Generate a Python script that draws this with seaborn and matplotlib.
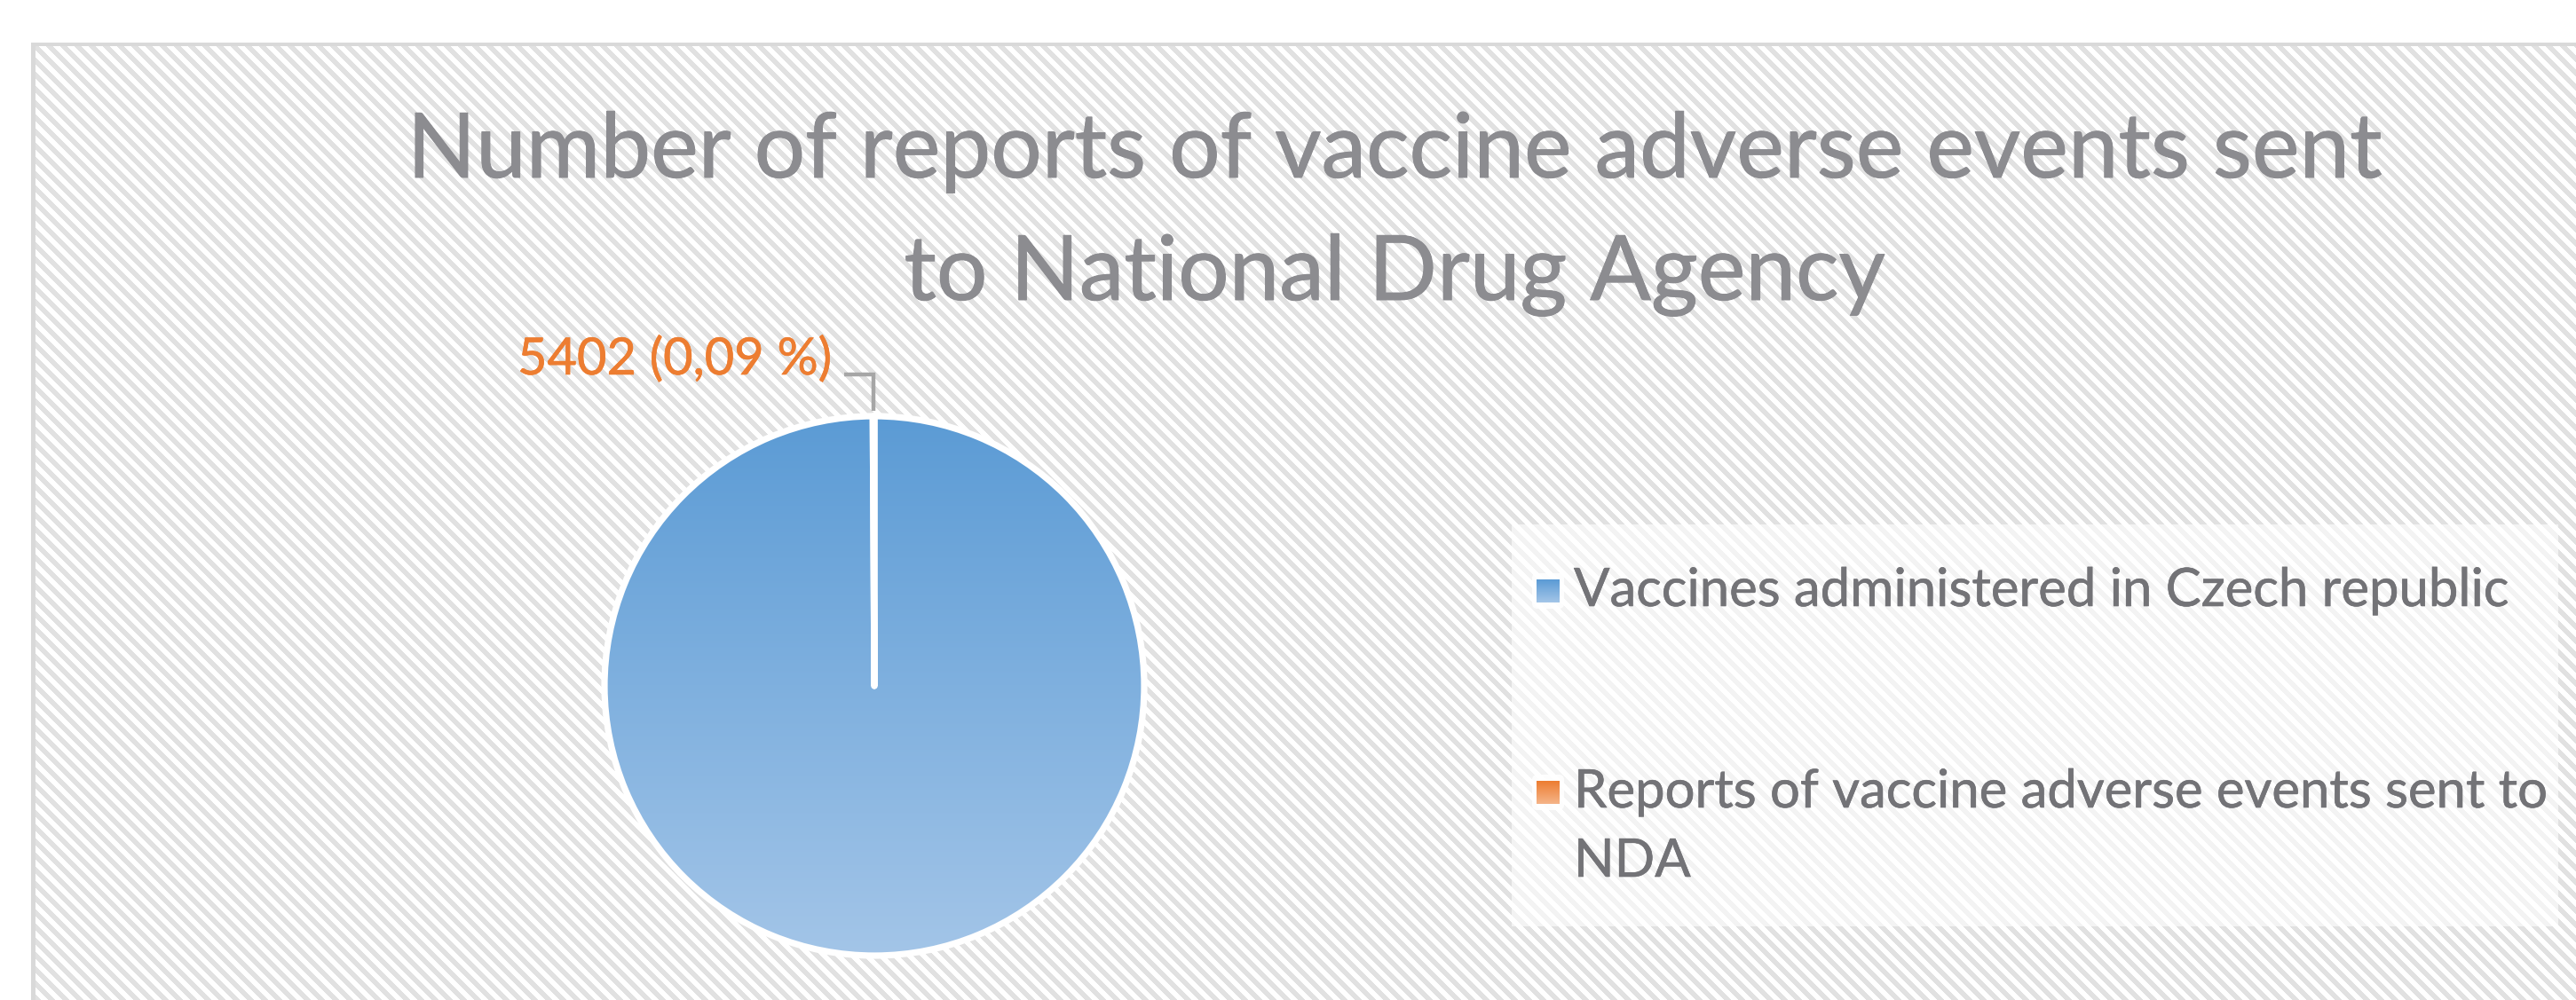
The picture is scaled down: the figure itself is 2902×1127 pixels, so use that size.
import textwrap
import numpy as np
import matplotlib
matplotlib.use("Agg")
import matplotlib.pyplot as plt
import matplotlib.patheffects as pe
from matplotlib.patches import Rectangle, FancyBboxPatch
from matplotlib.colors import to_rgb
import seaborn as sns

# ---------------- data ----------------
categories = ["Vaccines administered in Czech republic",
              "Reports of vaccine adverse events sent to NDA"]
values = [5996820, 5402]
title_lines = ["Number of reports of vaccine adverse events sent",
               "to National Drug Agency"]
colors_top = ["#5B9BD5", "#ED7D31"]
colors_bottom = ["#A3C5E8", "#F5B488"]

# ---------------- style ----------------
sns.set_theme(style="white")
plt.rcParams["font.family"] = ["Lato", "DejaVu Sans"]
palette = sns.color_palette(colors_top)

W, H = 2902, 1127
fig = plt.figure(figsize=(W / 100, H / 100), dpi=100)

# background axes in pixel coordinates
bg = fig.add_axes([0, 0, 1, 1], zorder=-5)
bg.set_xlim(0, W)
bg.set_ylim(H, 0)
bg.axis("off")

yy, xx = np.mgrid[0:H, 0:W]
stripe = ((xx - yy) % 16) < 8
img = np.ones((H, W, 3))
grey = np.array(to_rgb("#E1E1E1"))
img[stripe] = grey
img[:48, :] = 1.0
img[:, :35] = 1.0
bg.imshow(img, extent=(0, W, H, 0), interpolation="nearest", aspect="auto", zorder=0)
# chart border
bg.add_patch(Rectangle((35, 48), W, 4, facecolor="#D9D9D9", edgecolor="none", zorder=1))
bg.add_patch(Rectangle((35, 48), 5, H, facecolor="#D9D9D9", edgecolor="none", zorder=1))
# legend box
bg.add_patch(Rectangle((1703, 591), 2882 - 1703, 1044 - 591, facecolor="white",
                       alpha=0.62, edgecolor="none", zorder=2))

# ---------------- pie ----------------
R = 304.0
cx, cy = 985.0, 773.0
lim = 1.25
side = 2 * lim * R
ax = fig.add_axes([(cx - side / 2) / W, (H - cy - side / 2) / H, side / W, side / H])
wedges, _ = ax.pie(values, startangle=90, counterclock=False, colors=palette,
                   wedgeprops=dict(edgecolor="white", linewidth=5.2, joinstyle="round"))
ax.set_xlim(-lim, lim)
ax.set_ylim(-lim, lim)
ax.set_aspect("equal")
ax.axis("off")
ax.patch.set_alpha(0)

for w, ct, cb in zip(wedges, colors_top, colors_bottom):
    grad = np.linspace(0, 1, 256)[:, None, None]
    rgb = (1 - grad) * np.array(to_rgb(ct)) + grad * np.array(to_rgb(cb))
    rgb = np.repeat(rgb, 2, axis=1)
    im = ax.imshow(rgb, extent=(-1, 1, -1, 1), origin="upper", aspect="auto",
                   interpolation="bilinear", zorder=0.5)
    im.set_clip_path(w)
    w.set_facecolor("none")
    w.set_zorder(2)
ax.set_xlim(-lim, lim)
ax.set_ylim(-lim, lim)

# data label with leader line for the small slice
total = sum(values)
pct = values[1] / total * 100
label_txt = f"{values[1]} ({pct:.2f} %)".replace(".", ",")
w1 = wedges[1]
mid = np.deg2rad((w1.theta1 + w1.theta2) / 2)
x0 = np.cos(mid)
y_top = 1.155
ax.plot([x0, x0, x0 - 0.108], [1.02, y_top, y_top], color="#A6A6A6", lw=3.2,
        solid_joinstyle="miter", solid_capstyle="butt", zorder=3)

renderer = fig.canvas.get_renderer()


def fit(t, target):
    wdt = t.get_window_extent(renderer).width
    t.set_fontsize(t.get_fontsize() * target / wdt)


def bolden(t, lw):
    t.set_path_effects([pe.withStroke(linewidth=lw, foreground=t.get_color())])


lab = bg.text(583, 422, label_txt, color="#ED7D31", fontsize=46, va="baseline", ha="left")
fit(lab, 354)
bolden(lab, 0.45)

# ---------------- title ----------------
t1 = bg.text(1571, 200, title_lines[0], color="#8C8C90", fontsize=80,
             ha="center", va="baseline")
fit(t1, 2225)
t2 = bg.text(1571, 338, title_lines[1], color="#8C8C90", fontsize=t1.get_fontsize(),
             ha="center", va="baseline")
bolden(t1, 0.7)
bolden(t2, 0.7)

# ---------------- legend ----------------
leg_baselines = [683, 910]
line_gap = 78
leg_fs = None
for i, (cat, ct, cb) in enumerate(zip(categories, colors_top, colors_bottom)):
    base = leg_baselines[i]
    mcy = base - 17
    bg.add_patch(FancyBboxPatch((1726, mcy - 20), 36, 40,
                                boxstyle="round,pad=0,rounding_size=6",
                                facecolor="white", edgecolor="none", alpha=0.9, zorder=3))
    grad = np.linspace(0, 1, 32)[:, None, None]
    rgb = (1 - grad) * np.array(to_rgb(ct)) + grad * np.array(to_rgb(cb))
    rgb = np.repeat(rgb, 2, axis=1)
    bg.imshow(rgb, extent=(1731, 1757, mcy + 13, mcy - 13), aspect="auto",
              interpolation="bilinear", zorder=4)
    lines = textwrap.wrap(cat, 41)
    for j, ln in enumerate(lines):
        t = bg.text(1773, base + j * line_gap, ln, color="#737377",
                    fontsize=leg_fs if leg_fs else 45, ha="left", va="baseline", zorder=5)
        if leg_fs is None:
            fit(t, 1054)
            leg_fs = t.get_fontsize()
        bolden(t, 0.45)

bg.set_xlim(0, W)
bg.set_ylim(H, 0)
fig.savefig("out.png", dpi=100)
